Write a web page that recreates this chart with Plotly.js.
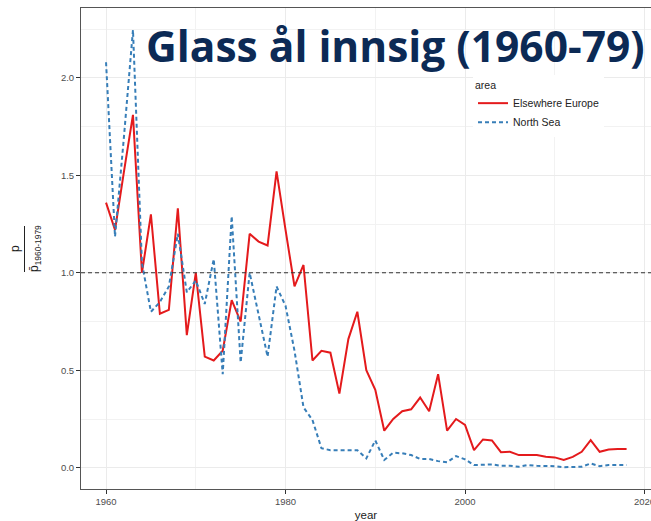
<!DOCTYPE html>
<html>
<head>
<meta charset="utf-8">
<script src="https://cdn.plot.ly/plotly-3.0.1.min.js"></script>
<style>html,body{margin:0;padding:0;background:#fff;}#chart{width:651px;height:521px;}</style>
</head>
<body>
<div id="chart"></div>
<script>
const years = [1960,1961,1962,1963,1964,1965,1966,1967,1968,1969,
  1970,1971,1972,1973,1974,1975,1976,1977,1978,1979,
  1980,1981,1982,1983,1984,1985,1986,1987,1988,1989,
  1990,1991,1992,1993,1994,1995,1996,1997,1998,1999,
  2000,2001,2002,2003,2004,2005,2006,2007,2008,2009,
  2010,2011,2012,2013,2014,2015,2016,2017,2018];

const elsewhereEurope = [1.36,1.22,1.52,1.81,1.00,1.30,0.79,0.81,1.33,0.68,
  1.00,0.57,0.55,0.60,0.86,0.75,1.20,1.16,1.14,1.52,
  1.22,0.93,1.04,0.55,0.60,0.59,0.38,0.66,0.80,0.50,
  0.40,0.19,0.25,0.29,0.30,0.36,0.29,0.48,0.19,0.25,
  0.22,0.09,0.145,0.14,0.08,0.082,0.065,0.065,0.065,0.056,
  0.053,0.04,0.056,0.082,0.142,0.082,0.094,0.096,0.096];

const northSea = [2.08,1.185,1.70,2.245,1.05,0.80,0.85,0.93,1.20,0.90,
  0.96,0.84,1.07,0.48,1.29,0.54,1.00,0.79,0.57,0.93,
  0.83,0.60,0.31,0.245,0.10,0.09,0.09,0.09,0.09,0.048,
  0.14,0.04,0.077,0.074,0.065,0.045,0.045,0.034,0.028,0.06,
  0.043,0.014,0.017,0.017,0.01,0.01,0.005,0.014,0.01,0.01,
  0.008,0.003,0.003,0.005,0.022,0.008,0.014,0.014,0.014];

const seriesNames = ["Elsewhere Europe", "North Sea"];
const referenceLevel = 1.0;
const xTicks = [1960, 1980, 2000, 2020];
const yTicks = [0.0, 0.5, 1.0, 1.5, 2.0];

const traces = [
  {x: years, y: elsewhereEurope, name: seriesNames[0], type: "scatter", mode: "lines",
   line: {color: "#e41a1c", width: 2}},
  {x: years, y: northSea, name: seriesNames[1], type: "scatter", mode: "lines",
   line: {color: "#377eb8", width: 2, dash: "4px,3px"}}
];

const tickFont = {family: "Liberation Sans, Arial, sans-serif", size: 9.5, color: "#4d4d4d"};

const layout = {
  width: 651, height: 521,
  margin: {l: 81, r: 0, t: 8, b: 32},
  paper_bgcolor: "#fff", plot_bgcolor: "#fff",
  title: {
    text: "<b>Glass ål innsig (1960-79)</b>",
    font: {family: "Open Sans, sans-serif", size: 42.5, color: "#0c2a55"},
    xref: "container", yref: "container",
    x: 146/651, xanchor: "left",
    y: 1 - 47/521, yanchor: "middle"
  },
  xaxis: {
    range: [1957.21, 2020.72],
    tickvals: xTicks, ticktext: xTicks.map(String),
    ticks: "outside", ticklen: 4, tickcolor: "#333", tickwidth: 1,
    tickfont: tickFont, ticklabeloverflow: "allow",
    showgrid: true, gridcolor: "#ebebeb", gridwidth: 1,
    minor: {dtick: 10, tick0: 1960, showgrid: true, gridcolor: "#f2f2f2", gridwidth: 1, ticks: ""},
    showline: true, linecolor: "#555", linewidth: 1, mirror: true,
    zeroline: false,
    title: {text: "year", font: {family: "Liberation Sans, Arial, sans-serif", size: 11.5, color: "#222"}, standoff: 6}
  },
  yaxis: {
    range: [-0.109, 2.358],
    tickvals: yTicks, ticktext: yTicks.map(v => v.toFixed(1)),
    ticks: "outside", ticklen: 4, tickcolor: "#333", tickwidth: 1,
    tickfont: tickFont,
    showgrid: true, gridcolor: "#ebebeb", gridwidth: 1,
    minor: {dtick: 0.25, tick0: 0, showgrid: true, gridcolor: "#f2f2f2", gridwidth: 1, ticks: ""},
    showline: true, linecolor: "#555", linewidth: 1, mirror: false,
    zeroline: false
  },
  showlegend: true,
  legend: {
    title: {text: "area", font: {family: "Liberation Sans, Arial, sans-serif", size: 10.5, color: "#222"}},
    font: {family: "Liberation Sans, Arial, sans-serif", size: 10.5, color: "#222"},
    bgcolor: "#fff", borderwidth: 0,
    x: (473 - 81) / 570, xanchor: "left",
    y: 1 - (75 - 8) / 481, yanchor: "top",
    tracegroupgap: 0
  },
  shapes: [
    {type: "line", xref: "paper", x0: 0, x1: 1, yref: "y", y0: referenceLevel, y1: referenceLevel,
     line: {color: "#333", width: 1.2, dash: "4px,3px"}},
    {type: "line", xref: "paper", x0: (24.5 - 81) / 570, x1: (24.5 - 81) / 570,
     yref: "paper", y0: 1 - (272 - 8) / 481, y1: 1 - (226 - 8) / 481,
     line: {color: "#222", width: 1}}
  ],
  annotations: [
    {text: "p", xref: "paper", yref: "paper", x: (15 - 81) / 570, y: 1 - (249 - 8) / 481,
     showarrow: false, textangle: -90, xanchor: "center", yanchor: "middle",
     font: {family: "Liberation Sans, Arial, sans-serif", size: 12, color: "#222"}},
    {text: "p\u0304<sub>1960-1979</sub>", xref: "paper", yref: "paper", x: (35 - 81) / 570, y: 1 - (249 - 8) / 481,
     showarrow: false, textangle: -90, xanchor: "center", yanchor: "middle",
     font: {family: "Liberation Sans, Arial, sans-serif", size: 12, color: "#222"}}
  ]
};

Plotly.newPlot("chart", traces, layout, {displayModeBar: false, staticPlot: true});
</script>
</body>
</html>
